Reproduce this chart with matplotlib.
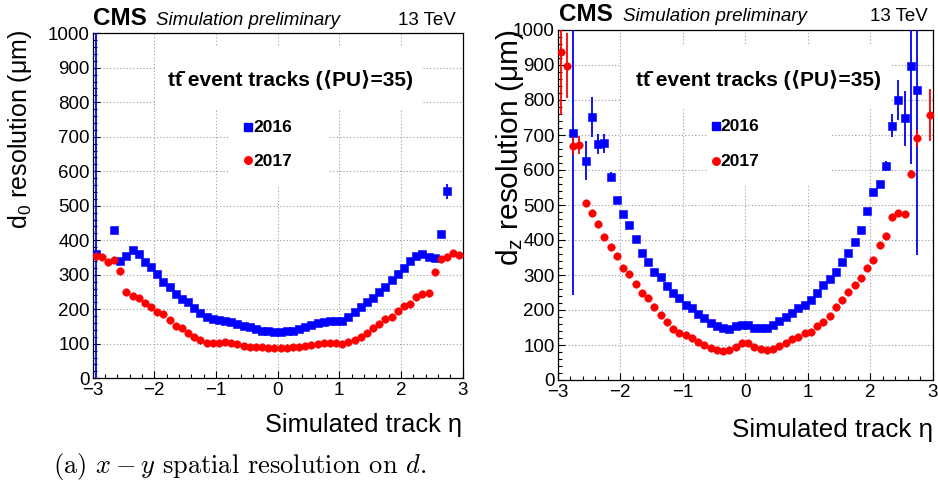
import numpy as np
import matplotlib
matplotlib.use("Agg")
import matplotlib.pyplot as plt
from matplotlib.ticker import MultipleLocator
from matplotlib.patches import Rectangle
from matplotlib.lines import Line2D

nan = np.nan

# 60 bins of width 0.1 in simulated track eta
eta = np.round(np.arange(-2.95, 3.0, 0.1), 2)

# transverse impact parameter resolution d0 (um)
d0_2016 = [360, nan, nan, 429, 341, 355, 372, 360, 338, 323,
           302, 278, 265, 244, 230, 222, 204, 188, 177, 172,
           170, 167, 162, 158, 153, 148, 143, 138, 137, 135,
           135, 137, 138, 143, 148, 155, 160, 162, 165, 167,
           165, 179, 191, 206, 220, 233, 249, 265, 285, 302,
           319, 340, 355, 360, 352, 348, 417, 542, nan, nan]
d0_2016_err = [700, 0, 0, 0, 0, 0, 0, 0, 0, 0,
               0, 0, 0, 0, 0, 0, 0, 0, 0, 0,
               0, 0, 0, 0, 0, 0, 0, 0, 0, 0,
               0, 0, 0, 0, 0, 0, 0, 0, 0, 0,
               0, 0, 0, 0, 0, 0, 0, 0, 0, 0,
               0, 0, 0, 0, 0, 0, 0, 21, 0, 0]
d0_2017 = [355, 353, 338, 342, 311, 249, 239, 232, 218, 206,
           191, 185, 170, 153, 146, 131, 119, 110, 103, 102,
           102, 104, 102, 98, 93, 90, 90, 90, 88, 87,
           87, 87, 90, 92, 93, 96, 100, 102, 103, 102,
           100, 105, 112, 119, 131, 146, 156, 172, 179, 194,
           211, 215, 237, 244, 246, 307, 345, 352, 364, 357]
d0_2017_err = [0] * 60

# longitudinal impact parameter resolution dz (um)
dz_2016 = [nan, nan, 707, nan, 627, 752, 674, 676, 581, 514,
           473, 443, 402, 362, 336, 308, 293, 270, 250, 233,
           214, 205, 189, 176, 164, 154, 150, 146, 154, 157,
           157, 150, 148, 148, 157, 169, 181, 192, 205, 214,
           229, 248, 271, 290, 310, 338, 362, 395, 429, 483,
           536, 560, 612, 726, 800, 748, 898, 829, nan, nan]
dz_2016_err = [0, 0, 465, 0, 57, 57, 29, 28, 12, 0,
               0, 0, 0, 0, 0, 0, 0, 0, 0, 0,
               0, 0, 0, 0, 0, 0, 0, 0, 0, 0,
               0, 0, 0, 0, 0, 0, 0, 0, 0, 0,
               0, 0, 0, 0, 0, 0, 0, 0, 0, 0,
               0, 0, 15, 33, 57, 79, 281, 472, 0, 0]
dz_2017 = [936, 898, 669, 672, 505, 478, 445, 410, 381, 355,
           321, 302, 274, 250, 233, 210, 186, 165, 146, 133,
           129, 119, 110, 100, 92, 86, 84, 86, 95, 105,
           105, 95, 88, 86, 88, 97, 107, 116, 124, 133,
           138, 154, 167, 183, 208, 230, 252, 271, 292, 321,
           343, 386, 411, 465, 478, 474, 589, 690, nan, 757]
dz_2017_err = [179, 93, 25, 26, 0, 0, 0, 0, 0, 0,
               0, 0, 0, 0, 0, 0, 0, 0, 0, 0,
               0, 0, 0, 0, 0, 0, 0, 0, 0, 0,
               0, 0, 0, 0, 0, 0, 0, 0, 0, 0,
               0, 0, 0, 0, 0, 0, 0, 0, 0, 0,
               0, 0, 0, 0, 0, 0, 12, 25, 0, 75]

years = ["2016", "2017"]
BLUE = "#0000ff"
RED = "#ff0000"

plt.rcParams["font.family"] = ["Liberation Sans", "DejaVu Sans"]
plt.rcParams["mathtext.fontset"] = "cm"

W, H = 938, 487
fig = plt.figure(figsize=(W / 100, H / 100), dpi=100)


def fx(px):
    return px / W


def fy(py):
    return 1 - py / H


def make_axes(x0, x1, y_top, y_bot):
    return fig.add_axes([fx(x0), fy(y_bot), (x1 - x0) / W, (y_bot - y_top) / H])


def draw_panel(ax, y16, e16, y17, e17, boxes):
    ax.set_xlim(-3, 3)
    ax.set_ylim(0, 1000)
    ax.xaxis.set_major_locator(MultipleLocator(1))
    ax.xaxis.set_minor_locator(MultipleLocator(0.2))
    ax.yaxis.set_major_locator(MultipleLocator(100))
    ax.yaxis.set_minor_locator(MultipleLocator(20))
    ax.tick_params(which="both", direction="in", top=False, right=False,
                   width=0.8, labelsize=13.5)
    ax.tick_params(which="major", length=5)
    ax.tick_params(which="minor", length=3)
    ax.tick_params(axis="y", pad=2)
    ax.tick_params(axis="x", pad=3)
    for s in ax.spines.values():
        s.set_linewidth(0.9)
    ax.set_axisbelow(True)
    ax.grid(True, which="major", color="#9a9a9a", lw=0.8, ls=(0, (1, 2)))
    for (bx, by, bw, bh) in boxes:
        ax.add_patch(Rectangle((bx, by), bw, bh, transform=ax.transAxes,
                               facecolor="white", edgecolor="none", zorder=1))
    ax.errorbar(eta, y16, yerr=e16, fmt="s", color=BLUE, ms=5.2, mew=0.4,
                mec=BLUE, elinewidth=1.3, capsize=0, zorder=3)
    ax.errorbar(eta, y17, yerr=e17, fmt="o", color=RED, ms=5.4, mew=0.4,
                mec=RED, elinewidth=1.3, capsize=0, zorder=4)


def header(x_left, x_sim, x_right, base):
    fig.text(fx(x_left), fy(base), "CMS", fontsize=17.5, fontweight="bold",
             va="baseline", ha="left")
    fig.text(fx(x_sim), fy(base), "Simulation preliminary", fontsize=13.5,
             style="italic", va="baseline", ha="left")
    fig.text(fx(x_right), fy(base), "13 TeV", fontsize=13.5, va="baseline",
             ha="right")


def labels(xc, base, mk_x, txt_x, y16, y17):
    fig.text(fx(xc), fy(base), "tt\u0304 event tracks (\u27e8PU\u27e9=35)",
             fontsize=15, fontweight="bold", ha="center", va="baseline")
    fig.add_artist(Line2D([fx(mk_x)], [fy(y16)], marker="s", color=BLUE,
                          ms=5.2, transform=fig.transFigure))
    fig.add_artist(Line2D([fx(mk_x)], [fy(y17)], marker="o", color=RED,
                          ms=5.4, transform=fig.transFigure))
    fig.text(fx(txt_x), fy(y16 + 1), years[0], fontsize=12.5,
             fontweight="bold", ha="left", va="center")
    fig.text(fx(txt_x), fy(y17 + 1), years[1], fontsize=12.5,
             fontweight="bold", ha="left", va="center")


# left panel: d0
ax1 = make_axes(92.5, 462.5, 33.3, 378.3)
draw_panel(ax1, d0_2016, d0_2016_err, d0_2017, d0_2017_err,
           [(0.17, 0.78, 0.72, 0.18), (0.37, 0.56, 0.27, 0.22)])
header(93, 156, 456, 25)
labels(290, 86, 248, 253, 127, 160)
fig.text(fx(20), fy(30), "$\\mathregular{d_0}$ resolution (\u03bcm)",
         rotation=90, fontsize=18, ha="center", va="top")
fig.text(fx(462), fy(425), "Simulated track \u03b7", fontsize=18.3,
         ha="right", va="center")

# right panel: dz
ax2 = make_axes(557.5, 932.7, 30, 380)
draw_panel(ax2, dz_2016, dz_2016_err, dz_2017, dz_2017_err,
           [(0.17, 0.78, 0.72, 0.18), (0.40, 0.56, 0.33, 0.22)])
header(559, 623, 928, 21)
labels(758, 86, 716, 720, 126, 161)
fig.text(fx(510), fy(30), "$\\mathregular{d_z}$ resolution (\u03bcm)",
         rotation=90, fontsize=21.5, ha="center", va="top")
fig.text(fx(933), fy(430), "Simulated track \u03b7", fontsize=18.7,
         ha="right", va="center")

# caption
fig.text(fx(53), fy(473), "(a) $x - y$ spatial resolution on $d$.",
         fontsize=19, family="cmr10", ha="left", va="baseline")

fig.savefig("out.png", dpi=100)
